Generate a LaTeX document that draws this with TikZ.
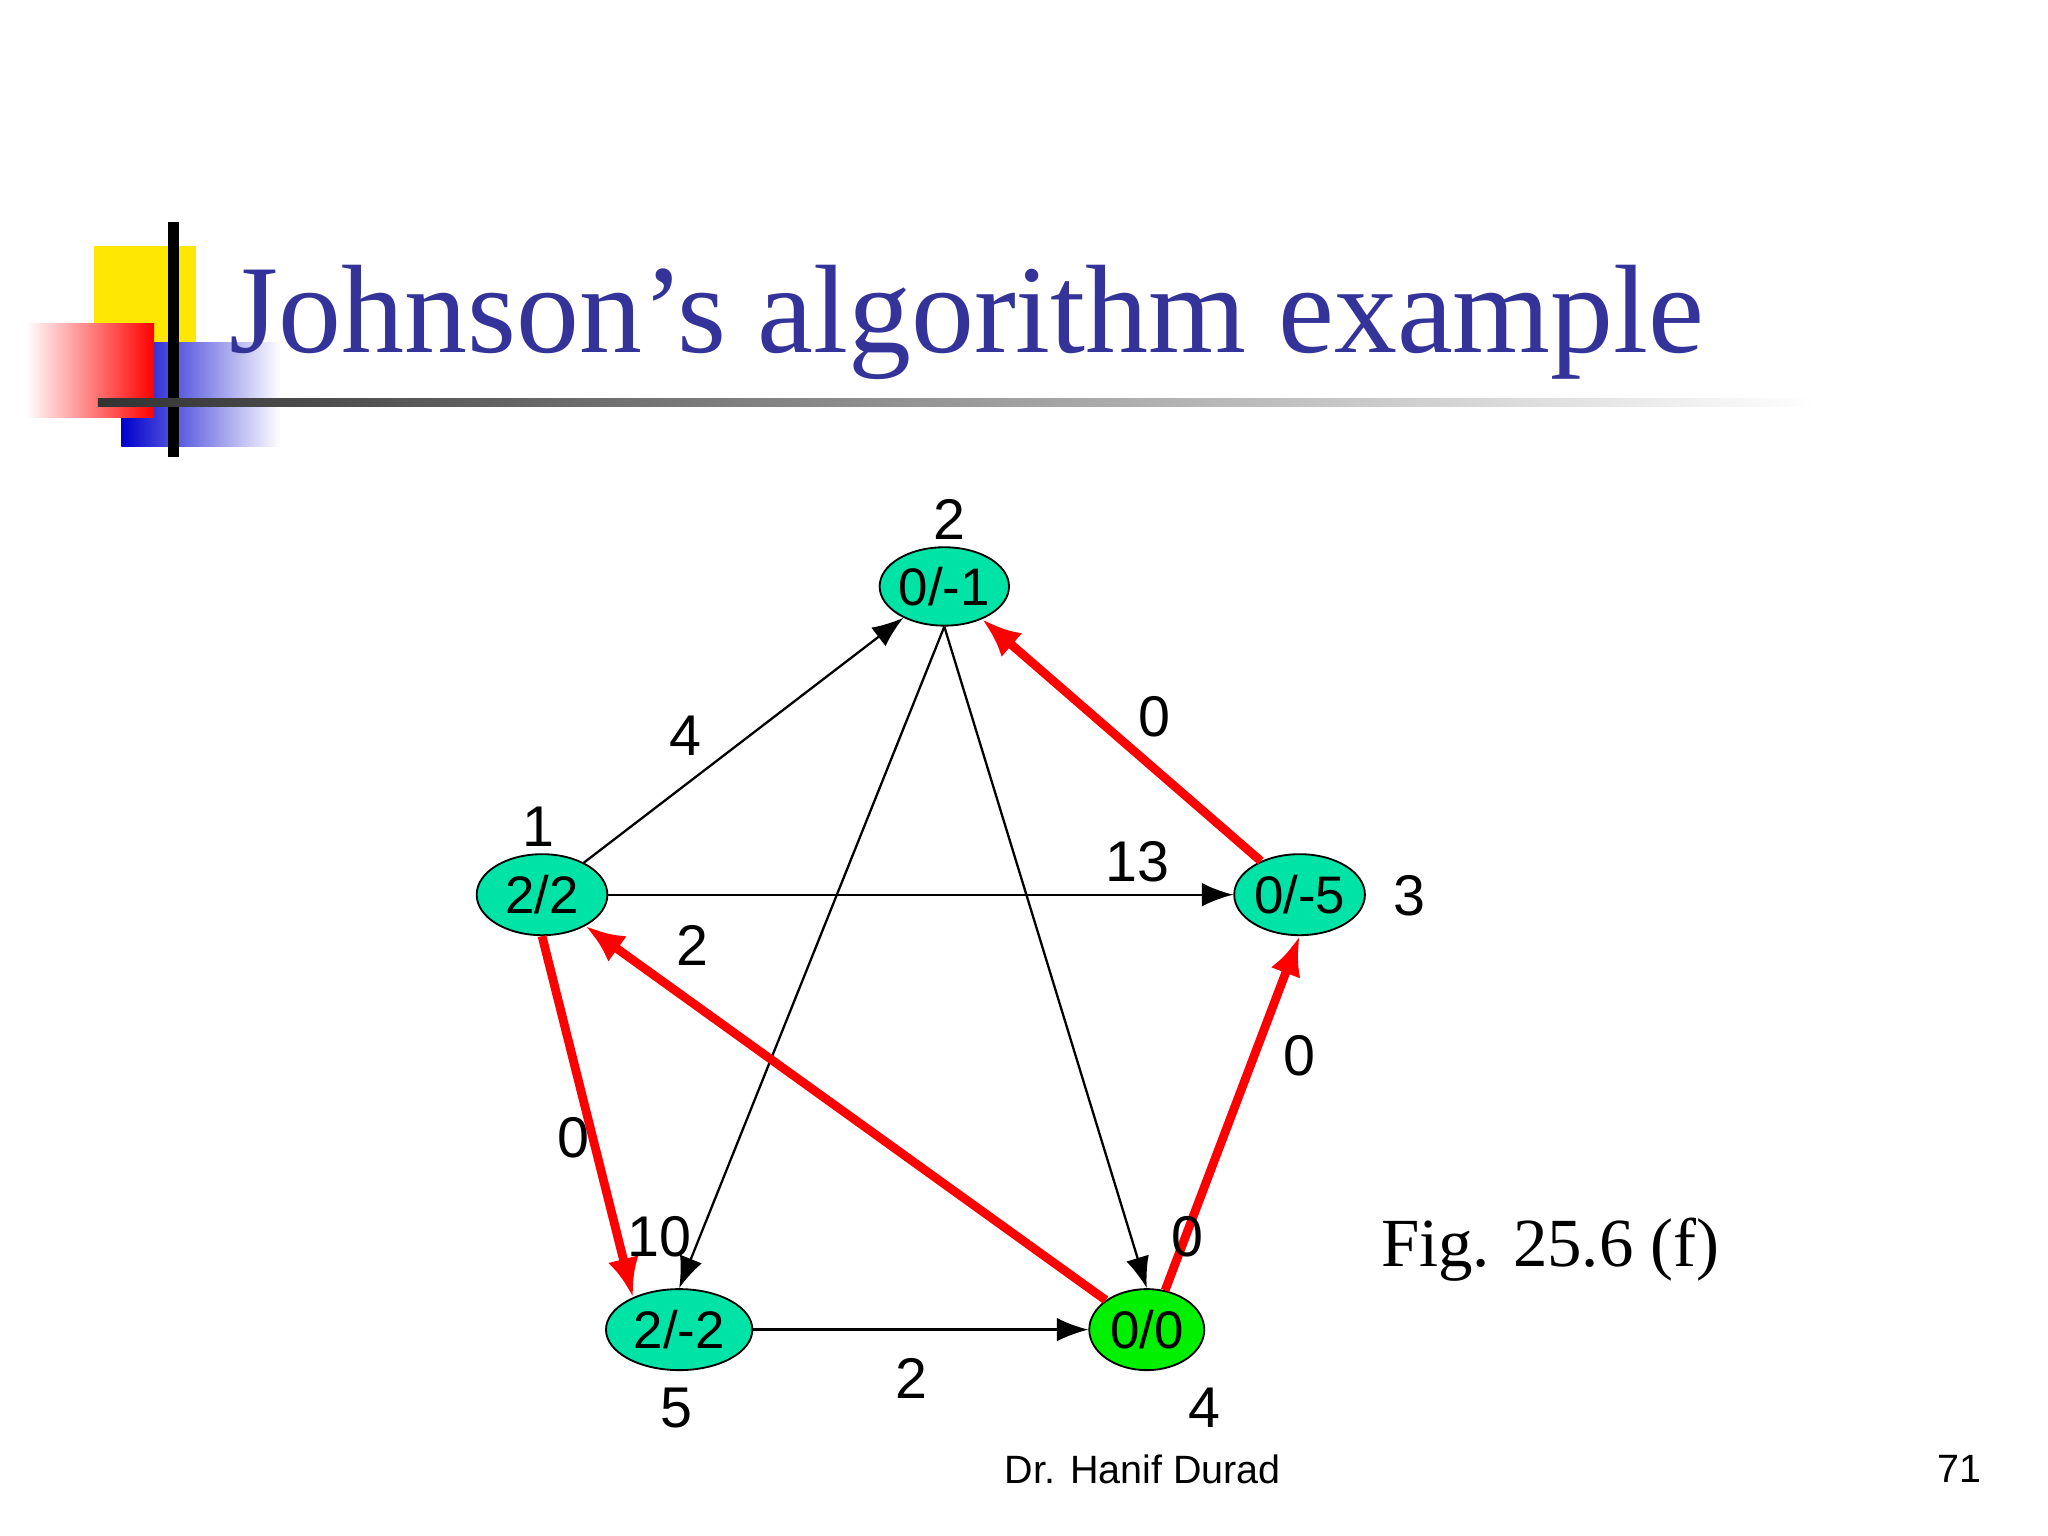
\documentclass[tikz,border=0pt]{standalone}
\usepackage{fontspec}
\setmainfont{Liberation Serif}
\setsansfont{Liberation Sans}
\usetikzlibrary{shapes.geometric,arrows.meta}
\definecolor{nodeg}{HTML}{00E3A6}
\definecolor{brightg}{HTML}{00F000}
\definecolor{titleblue}{HTML}{333399}
\begin{document}
\begin{tikzpicture}[x=0.01cm,y=-0.01cm,
  vtx/.style={ellipse,draw=black,fill=nodeg,inner sep=0pt,font=\sffamily\fontsize{11.5}{14}\selectfont},
  lbl/.style={font=\sffamily\fontsize{12.5}{14}\selectfont},
  blk/.style={draw=black,line width=0.5pt,-{Latex[length=2.4mm,width=1.8mm]}},
  redl/.style={draw=red,line width=1.9pt,-{Latex[length=3mm,width=2.4mm]}}]
\useasboundingbox (0,0) rectangle (1568,1176);
\fill[white] (0,0) rectangle (1568,1176);
% logo
\fill[yellow!90!orange] (72,188) rectangle (150,262);
\shade[left color=blue!80!black, right color=white] (93,262) rectangle (215,342);
\shade[left color=white, right color=red] (20,248) rectangle (118,320);
\draw[line width=2.5pt] (133,170) -- (133,350);
\shade[left color=black!80, right color=white] (75,305) rectangle (1390,311);
\node[anchor=base west,text=titleblue,font=\fontsize{27.4}{32}\selectfont,inner sep=0] (title) at (175,270) {Johnson’s algorithm example};
% nodes
\node[vtx,minimum width=0.99cm,minimum height=0.6cm] (n2) at (723,449) {0/-1};
\node[vtx,minimum width=1cm,minimum height=0.62cm] (n1) at (415,685) {2/2};
\node[vtx,minimum width=1cm,minimum height=0.62cm] (n3) at (995,685) {0/-5};
\node[vtx,minimum width=1.12cm,minimum height=0.62cm] (n5) at (520,1018) {2/-2};
\node[vtx,fill=brightg,minimum width=0.88cm,minimum height=0.62cm] (n4) at (878,1018) {0/0};
% edges
\draw[blk] (n1) -- (n2);
\draw[blk] (n1) -- (n3);
\draw[blk] (n2.south) -- (n5.north);
\draw[blk] (n2.south) -- (n4.north);
\draw[blk] (n5) -- (n4);
\draw[redl] (n3) -- (n2);
\draw[redl] (n4) -- (n1);
\draw[redl] (n1.south) -- (n5.145);
\draw[redl] (n4.65) -- (n3.south);
% edge labels
\node[lbl] (l4) at (525,563) {4};
\node[lbl] (l13) at (871,660) {13};
\node[lbl] (l10) at (505,947) {10};
\node[lbl] (l0a) at (909,947) {0};
\node[lbl] (l2a) at (698,1055) {2};
\node[lbl] (l0b) at (884,549) {0};
\node[lbl] (l2b) at (530,724) {2};
\node[lbl] (l0c) at (439,871) {0};
\node[lbl] (l0d) at (995,808) {0};
% vertex numbers
\node[lbl] (v2) at (727,398) {2};
\node[lbl] (v1) at (412,633) {1};
\node[lbl] (v3) at (1079,686) {3};
\node[lbl] (v5) at (518,1078) {5};
\node[lbl] (v4) at (922,1078) {4};
\node[font=\fontsize{15}{18}\selectfont] (fig) at (1187,957) {Fig. 25.6 (f)};
\node[font=\sffamily\fontsize{8.6}{11}\selectfont] (foot) at (875,1125) {Dr. Hanif Durad};
\node[font=\sffamily\fontsize{8.6}{11}\selectfont] (pg) at (1500,1125) {71};
\end{tikzpicture}
\end{document}
